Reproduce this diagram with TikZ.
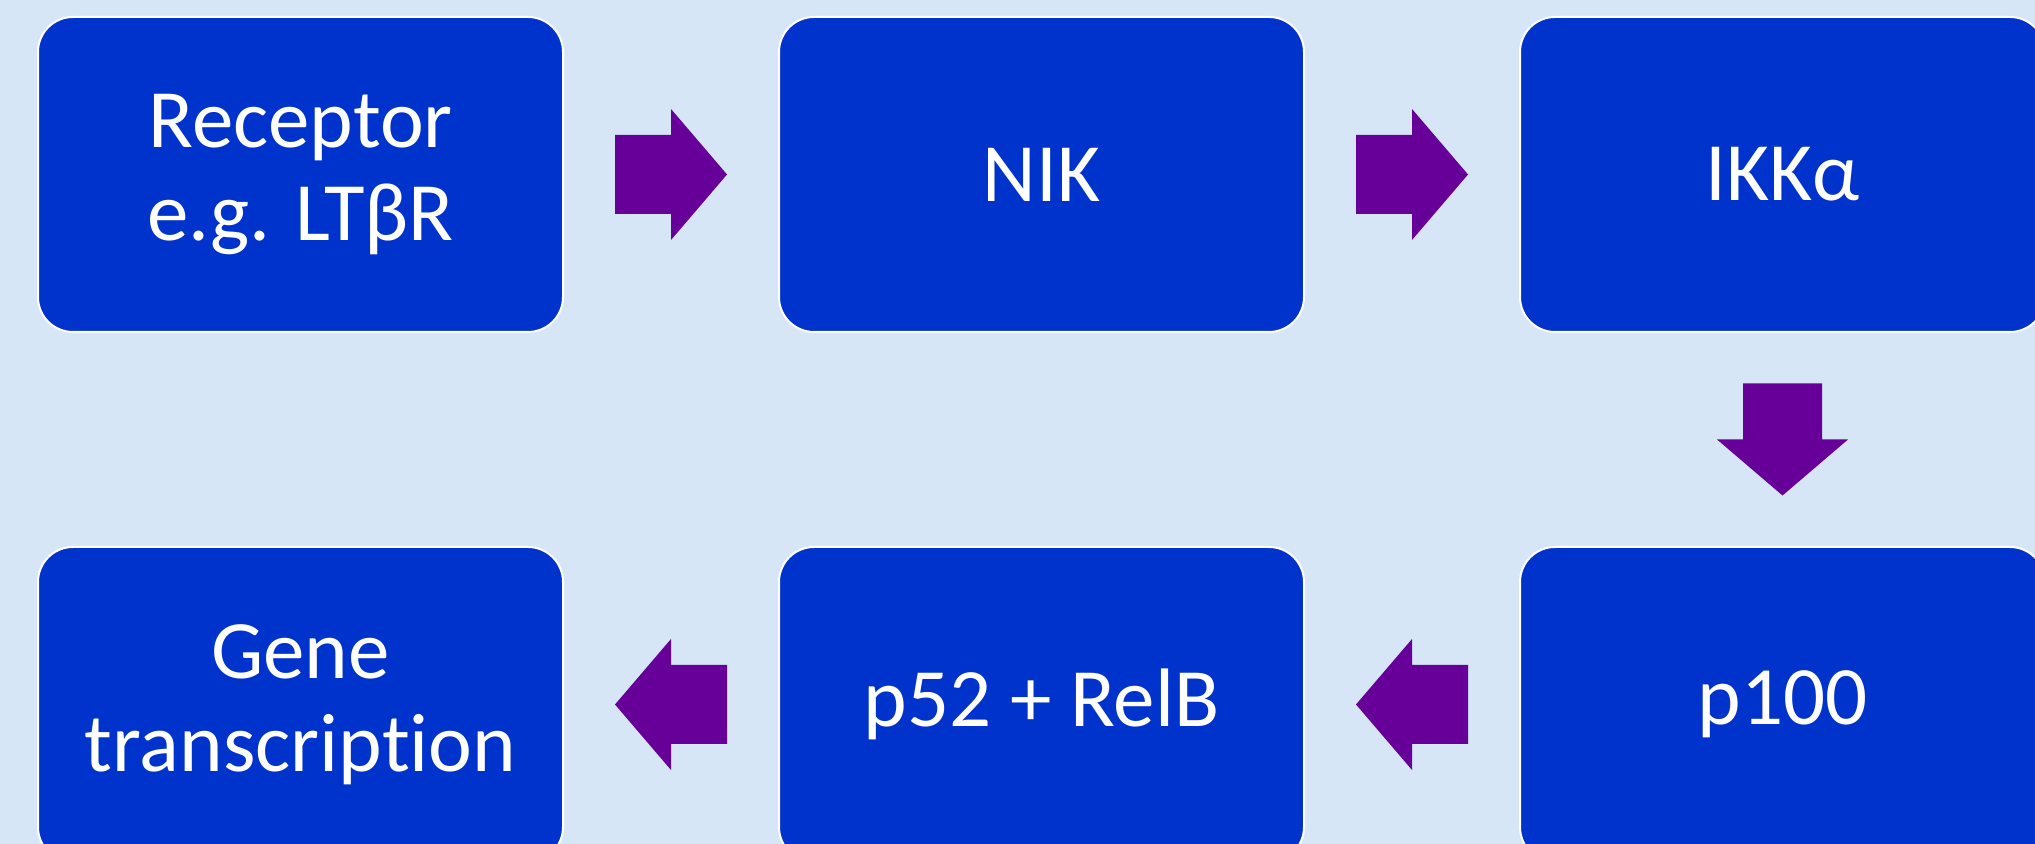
\documentclass[tikz,border=0pt]{standalone}
\usepackage{fontspec}
\setmainfont{Carlito}[Ligatures={NoCommon,NoRare,NoContextual}]
\usetikzlibrary{calc}
\definecolor{bgblue}{RGB}{214,230,246}
\definecolor{boxblue}{RGB}{0,51,204}
\definecolor{arrowpurple}{RGB}{102,0,153}
\tikzset{
  x=0.5pt, y=0.5pt,
  stepbox/.style={rectangle, rounded corners=17.5pt, draw=white, line width=1pt,
    fill=boxblue, text=white, minimum width=262.5pt, minimum height=157.5pt,
    align=center, inner sep=0pt,
    font=\fontsize{41.5pt}{46.5pt}\selectfont},
  blockarrow/.pic={
    \fill[arrowpurple] (-56,-39.5) -- (0,-39.5) -- (0,-65.5) -- (56,0)
      -- (0,65.5) -- (0,39.5) -- (-56,39.5) -- cycle;
  }
}
\begin{document}
\begin{tikzpicture}
\useasboundingbox (0,0) rectangle (2035,844);
\fill[bgblue] (0,0) rectangle (2035,844);
\begin{scope}
\clip (0,0) rectangle (2035,844);
\node[stepbox] (rec) at (300.5,669.5) {Receptor\\e.g. LTβR};
\node[stepbox] (nik) at (1041.5,669.5) {NIK};
\node[stepbox] (ikk) at (1782.5,669.5) {IKKα};
\node[stepbox] (p100) at (1782.5,139.5) {p100};
\node[stepbox] (p52) at (1041.5,139.5) {p52 + RelB};
\node[stepbox] (gene) at (300.5,139.5) {Gene\\transcription};
\end{scope}
\pic at ($(rec.east)!0.5!(nik.west)$) {blockarrow};
\pic at ($(nik.east)!0.5!(ikk.west)$) {blockarrow};
\pic[rotate=-90] at ($(ikk.south)!0.5!(p100.north)$) {blockarrow};
\pic[rotate=180] at ($(p100.west)!0.5!(p52.east)$) {blockarrow};
\pic[rotate=180] at ($(p52.west)!0.5!(gene.east)$) {blockarrow};
\end{tikzpicture}
\end{document}
